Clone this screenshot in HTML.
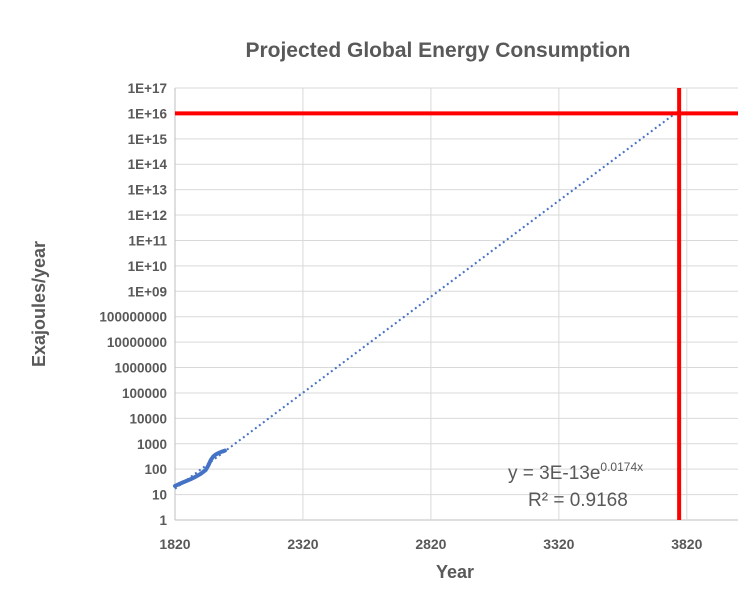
<!DOCTYPE html>
<html><head><meta charset="utf-8"><style>
body{margin:0;background:#fff;font-family:"Liberation Sans",sans-serif}
</style></head><body>
<svg width="751" height="586" xmlns="http://www.w3.org/2000/svg" font-family="Liberation Sans, sans-serif">
<rect width="751" height="586" fill="#fff"/>
<text x="438" y="57" text-anchor="middle" font-size="21" font-weight="bold" fill="#595959">Projected Global Energy Consumption</text>
<g id="grid"></g><g id="ylab"></g><g id="xlab"></g><g id="series"></g>
<text x="455" y="578" text-anchor="middle" font-size="18" font-weight="bold" fill="#595959">Year</text>
<text transform="translate(45,304) rotate(-90)" text-anchor="middle" font-size="18" font-weight="bold" fill="#595959">Exajoules/year</text>
<text x="508" y="479" font-size="19" fill="#595959">y = 3E-13e<tspan font-size="12" dy="-8">0.0174x</tspan></text>
<text x="528" y="506" font-size="19" fill="#595959">R² = 0.9168</text>
</svg>
<script>
const years=[1820,1850,1880,1900,1920,1940,1950,1960,1970,1980,1990,2000,2015];
const energy=[22,30,40,50,65,93,140,230,320,380,430,480,540];
const xTicks=[1820,2320,2820,3320,3820];
const yDecades=[0,1,2,3,4,5,6,7,8,9,10,11,12,13,14,15,16,17];
const trendA=3e-13, trendB=0.0174, trendStart=1820, trendEnd=3790;
const markX=3790, markY=1e16;
const NS="http://www.w3.org/2000/svg";
const X0=175,X1=738,xmin=1820,xmax=4020,Y0=520,Y1=88;
const sx=v=>X0+(v-xmin)/(xmax-xmin)*(X1-X0);
const sy=v=>Y0-(Math.log10(v))/17*(Y0-Y1);
function mk(t,a,p){const e=document.createElementNS(NS,t);for(const k in a)e.setAttribute(k,a[k]);p.appendChild(e);return e;}
const g=document.getElementById('grid'),yl=document.getElementById('ylab'),xl=document.getElementById('xlab'),s=document.getElementById('series');
yDecades.forEach(d=>{
 const y=sy(Math.pow(10,d));
 const l=mk('line',{x1:X0,x2:X1,y1:y,y2:y,stroke:d==0?'#bfbfbf':'#d9d9d9','stroke-width':1},g);
 
 const t=mk('text',{x:X0-8,y:y+5,'text-anchor':'end','font-size':13.5,'font-weight':'bold',fill:'#595959'},yl);
 
 t.textContent=d>=9?('1E+'+(d<10?'0'+d:d)):String(Math.pow(10,d));
});
xTicks.forEach(v=>{
 const x=sx(v);
 const l=mk('line',{x1:x,x2:x,y1:Y1,y2:Y0,stroke:v==1820?'#bfbfbf':'#d9d9d9','stroke-width':1},g);
 
 const t=mk('text',{x:x,y:549,'text-anchor':'middle','font-size':14,'font-weight':'bold',fill:'#595959'},xl);
 
 t.textContent=v;
});
let tp='';for(let yr=trendStart;yr<=trendEnd;yr+=10){tp+=(tp?'L':'M')+sx(yr).toFixed(1)+','+sy(trendA*Math.exp(trendB*yr)).toFixed(1);}
const tl=mk('path',{d:tp,fill:'none',stroke:'#4472c4','stroke-width':2,'stroke-dasharray':'2,3'},s);

const dp=years.map((yr,i)=>(i?'L':'M')+sx(yr).toFixed(1)+','+sy(energy[i]).toFixed(1)).join('');
const dl=mk('path',{d:dp,fill:'none',stroke:'#4472c4','stroke-width':4,'stroke-linejoin':'round','stroke-linecap':'round'},s);

const h=mk('line',{x1:X0,x2:738,y1:sy(markY),y2:sy(markY),stroke:'#ff0000','stroke-width':4},s);

const v=mk('line',{x1:sx(markX),x2:sx(markX),y1:Y1,y2:Y0,stroke:'#ff0000','stroke-width':4},s);

</script>
</body></html>
